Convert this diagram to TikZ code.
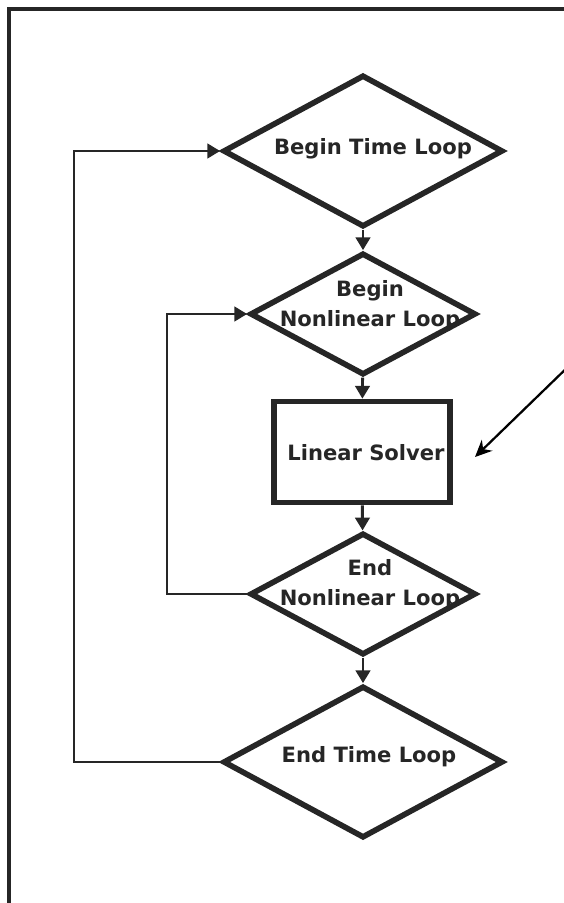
\documentclass[tikz,border=0pt]{standalone}
\usepackage{fontspec}
\setsansfont{DejaVu Sans}
\usetikzlibrary{arrows.meta,shapes.geometric}

\definecolor{ink}{HTML}{262626}

\begin{document}
\begin{tikzpicture}[
  decision/.style={draw=ink, shape=diamond, line width=4pt, inner sep=0pt},
  process/.style={draw=ink, rectangle, line width=4pt, inner sep=0pt},
  flow/.style={draw=ink, line width=2.1pt, -{Triangle[length=3.2mm,width=3.6mm]}},
  pointer/.style={draw=black, line width=1.6pt, -{Stealth[length=4.2mm,width=3.8mm]}},
  steptext/.style={font=\sffamily\bfseries\fontsize{15}{21.3}\selectfont, text=ink, align=center, inner sep=0pt},
  frame/.style={draw=black!85, line width=2.3pt}]

\useasboundingbox (0,0) rectangle (14.075,-22.575);
\draw[frame] (0.225,-23) -- (0.225,-0.225) -- (14.5,-0.225);

% flow chart shapes
\node[decision, minimum width=7cm, minimum height=3.8cm] (beginT) at (9.075,-3.775) {};
\node[decision, minimum width=5.65cm, minimum height=3.05cm] (beginNL) at (9.075,-7.85) {};
\node[process, minimum width=4.4cm, minimum height=2.525cm] (solver) at (9.05,-11.3) {};
\node[decision, minimum width=5.65cm, minimum height=3.05cm] (endNL) at (9.075,-14.85) {};
\node[decision, minimum width=7cm, minimum height=3.8cm] (endT) at (9.075,-19.05) {};

\node[steptext, anchor=base] (beginTtxt) at (9.325,-3.85) {Begin Time Loop};
\node[steptext, anchor=base] (beginNLtxt) at (9.25,-8.15) {Begin\\Nonlinear Loop};
\node[steptext, anchor=base] (solvertxt) at (9.15,-11.5) {Linear Solver};
\node[steptext, anchor=base] (endNLtxt) at (9.25,-15.125) {End\\Nonlinear Loop};
\node[steptext, anchor=base] (endTtxt) at (9.225,-19.05) {End Time Loop};

\draw[flow] (beginT) -- (beginNL);
\draw[flow] (beginNL) -- (solver);
\draw[flow] (solver) -- (endNL);
\draw[flow] (endNL) -- (endT);

% loop back edges
\coordinate (backT) at (1.85,0);
\coordinate (backNL) at (4.175,0);
\draw[flow] (endT.west) -- (endT.west -| backT) |- (beginT.west);
\draw[flow] (endNL.west) -- (endNL.west -| backNL) |- (beginNL.west);

\coordinate (callout) at (14.325,-9.05);
\coordinate (callouttip) at (11.875,-11.425);
\draw[pointer] (callout) -- (callouttip);

\end{tikzpicture}
\end{document}
